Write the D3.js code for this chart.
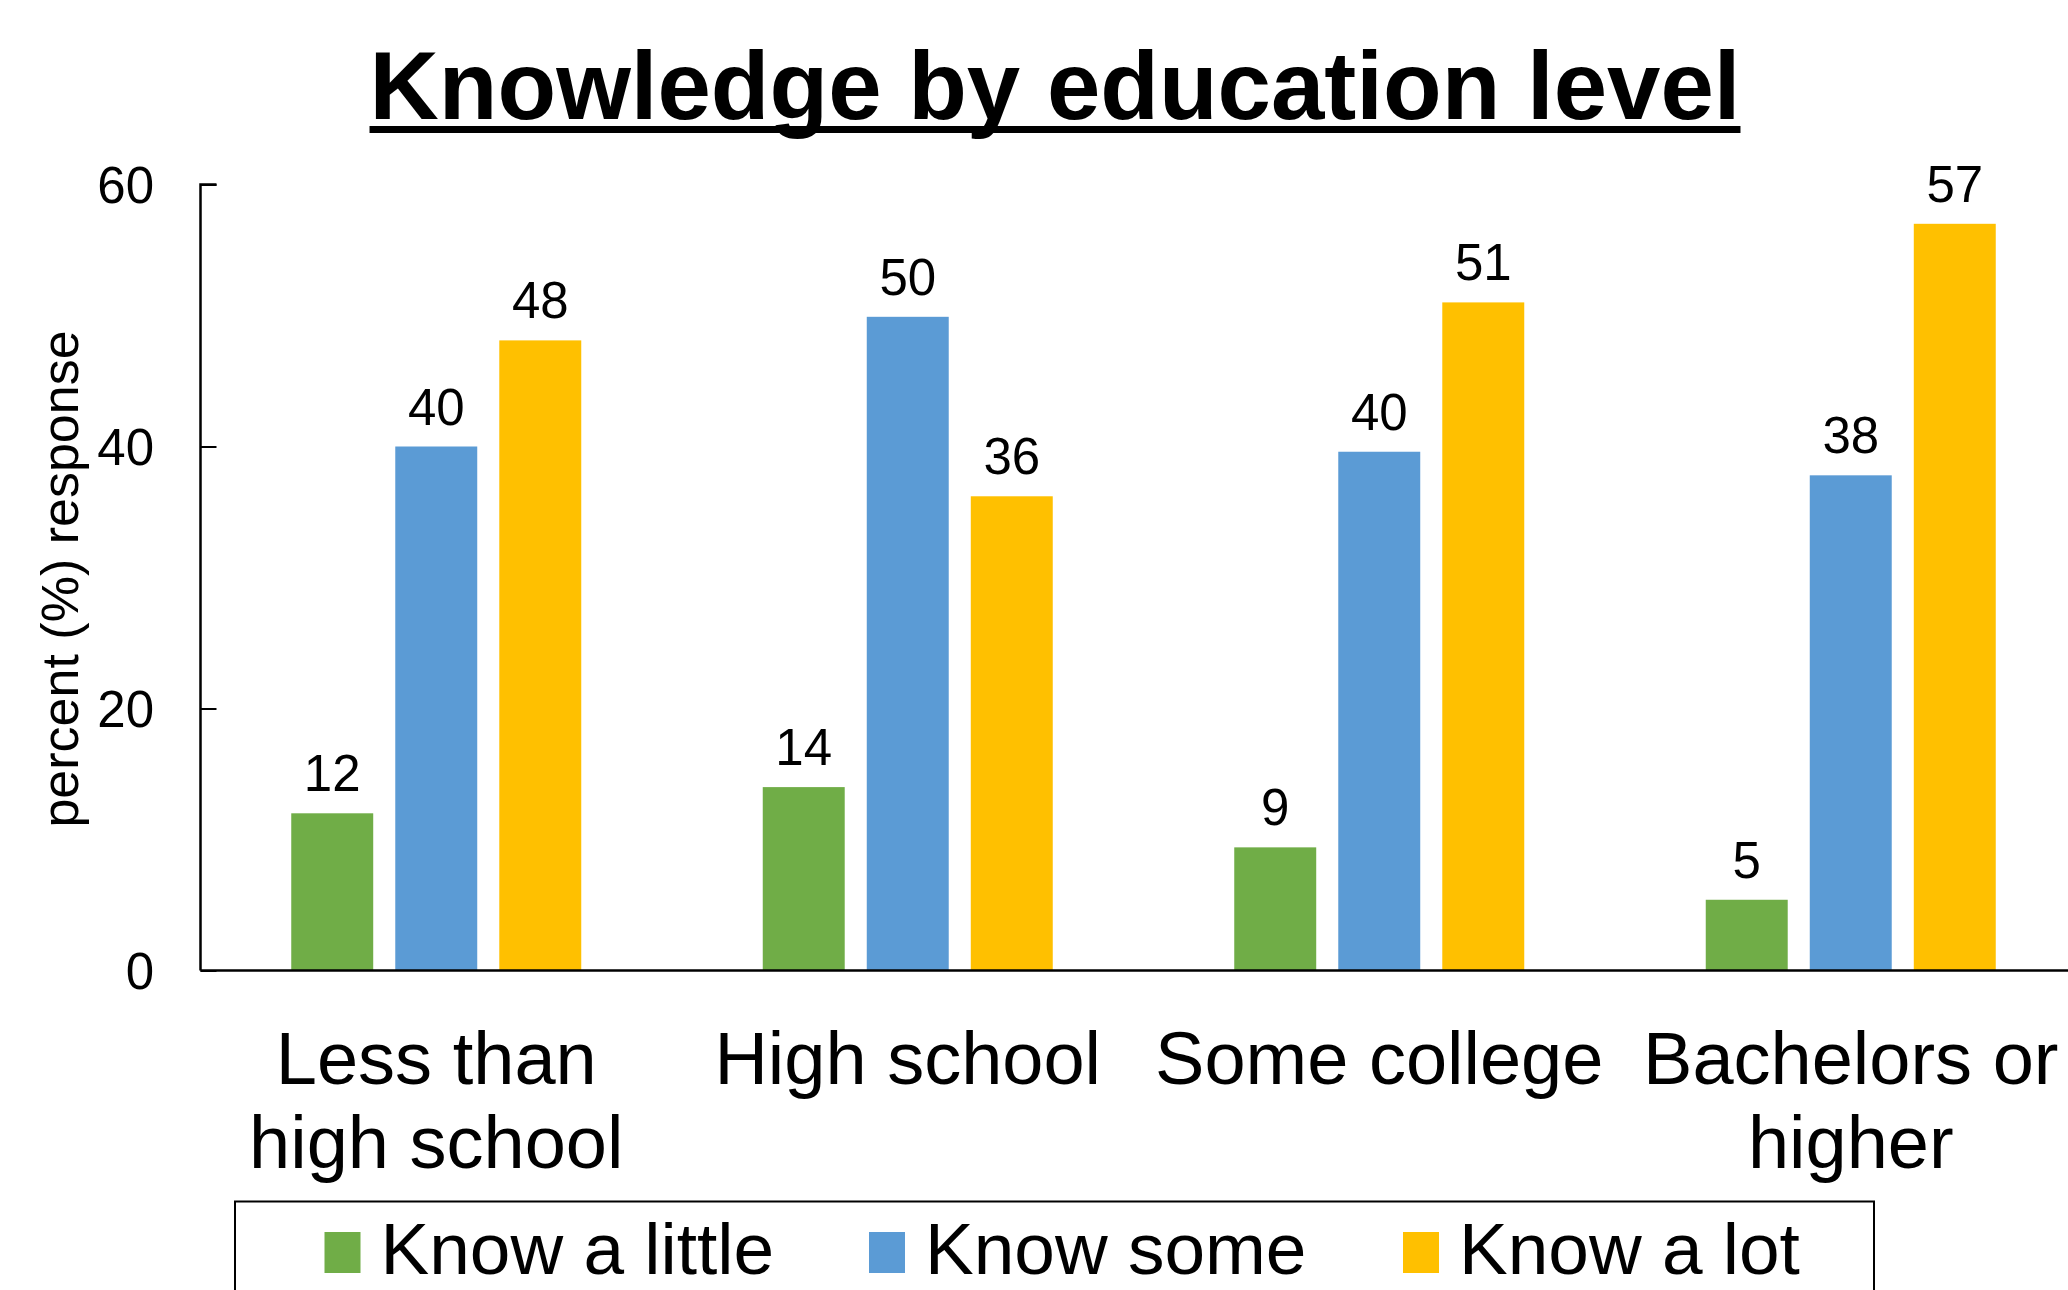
<!DOCTYPE html>
<html><head><meta charset="utf-8">
<script src="https://cdn.jsdelivr.net/npm/d3@7"></script>
<style>html,body{margin:0;padding:0;background:#fff;overflow:hidden}</style>
</head><body>
<svg id="chart" width="2068" height="1290"></svg>
<script>
const categories = [["Less than","high school"],["High school"],["Some college"],["Bachelors or","higher"]];
const seriesNames = ["Know a little","Know some","Know a lot"];
const knowLittle = [12, 14, 9.4, 5.4];
const knowSome = [40, 49.9, 39.6, 37.8];
const knowLot = [48.1, 36.2, 51.0, 57.0];
const yTicks = [0, 20, 40, 60];
const colors = ["#70AD47", "#5B9BD5", "#FFC000"];

const font = "'Liberation Sans', Arial, sans-serif";
const svg = d3.select("#chart");
const seriesVals = [knowLittle, knowSome, knowLot];
const catIdx = categories.map((d,i)=>i);

const x0 = d3.scaleBand().domain(catIdx).range([200.5, 2086.5]).padding(0);
const x1 = d3.scaleBand().domain([0,1,2]).range([-145, 145]).paddingInner(0.212).paddingOuter(0);
const y = d3.scaleLinear().domain([0, 60]).range([970.5, 184.5]);

// Title
const title = svg.append("text").attr("x", 1055).attr("y", 119).attr("text-anchor","middle")
  .attr("font-family", font).attr("font-weight","bold").attr("font-size", 96).attr("fill","#000")
  .text("Knowledge by education level");
const tl = title.node().getComputedTextLength();
svg.append("rect").attr("x", 1055 - tl/2).attr("y", 126).attr("width", tl).attr("height", 7).attr("fill","#000");

// Bars
const g = svg.append("g");
catIdx.forEach(ci => {
  [0,1,2].forEach(si => {
    const v = seriesVals[si][ci];
    const bx = x0(ci) + x0.bandwidth()/2 + x1(si);
    g.append("rect").attr("x", bx).attr("y", y(v)).attr("width", x1.bandwidth()).attr("height", y(0) - y(v))
      .attr("fill", colors[si]);
    g.append("text").attr("x", bx + x1.bandwidth()/2).attr("y", y(v) - 22).attr("text-anchor","middle")
      .attr("font-family", font).attr("font-size", 51).attr("fill","#000").text(d3.format(".0f")(v));
  });
});

// Y axis
const yAxis = d3.axisRight(y).tickValues(yTicks).tickSize(16).tickFormat("");
const ya = svg.append("g").attr("transform","translate(200.5,0)").call(yAxis);
ya.select(".domain").attr("stroke","#000").attr("stroke-width",2.5).attr("d", `M16,${y(60)}H0V${y(0)}`);
ya.selectAll(".tick line").attr("stroke","#000").attr("stroke-width",2);
yTicks.forEach(t => {
  svg.append("text").attr("x", 154).attr("y", y(t)).attr("dy","0.36em").attr("text-anchor","end")
    .attr("font-family", font).attr("font-size", 51).attr("fill","#000").text(t);
});
// Baseline
svg.append("line").attr("x1", 200.5).attr("x2", 2068).attr("y1", y(0)).attr("y2", y(0))
  .attr("stroke","#000").attr("stroke-width",2.5);

// Y label
svg.append("text").attr("transform", "translate(78,579) rotate(-90)").attr("text-anchor","middle")
  .attr("font-family", font).attr("font-size", 52).attr("fill","#000").text("percent (%) response");

// Category labels
catIdx.forEach(ci => {
  const cx = x0(ci) + x0.bandwidth()/2;
  categories[ci].forEach((line, li) => {
    svg.append("text").attr("x", cx).attr("y", 1084 + li*84).attr("text-anchor","middle")
      .attr("font-family", font).attr("font-size", 74).attr("fill","#000").text(line);
  });
});

// Legend
svg.append("rect").attr("x", 235).attr("y", 1201.5).attr("width", 1639).attr("height", 200)
  .attr("fill","none").attr("stroke","#000").attr("stroke-width",2);
const legX = [324.5, 869, 1403];
seriesNames.forEach((n, i) => {
  svg.append("rect").attr("x", legX[i]).attr("y", 1232).attr("width", 36).attr("height", 41).attr("fill", colors[i]);
  svg.append("text").attr("x", legX[i] + 56).attr("y", 1274).attr("font-family", font).attr("font-size", 73)
    .attr("fill","#000").text(n);
});
</script>
</body></html>
